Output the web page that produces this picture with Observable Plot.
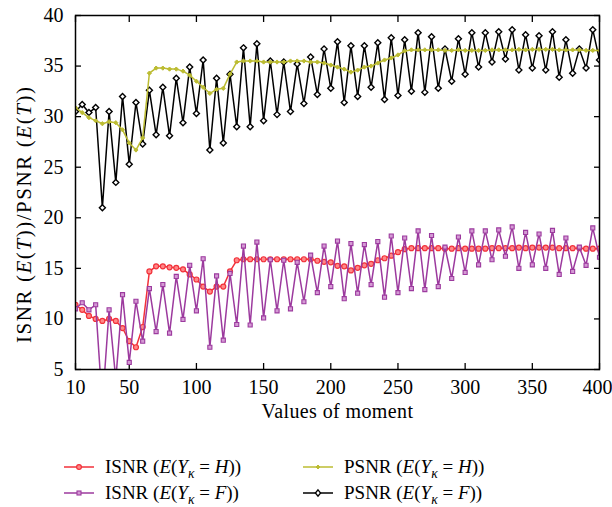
<!DOCTYPE html>
<html><head><meta charset="utf-8">
<script src="https://cdn.jsdelivr.net/npm/d3@7"></script>
<script src="https://cdn.jsdelivr.net/npm/@observablehq/plot@0.6"></script>
<style>
body{margin:0;background:#fff;}
#wrap{position:relative;width:612px;height:507px;font-family:"Liberation Serif",serif;background:#fff;}
.leg{position:absolute;display:flex;align-items:center;height:22px;font-size:19px;color:#000;white-space:nowrap;}
.leg svg{margin-right:11px;}
.leg sub{font-size:0.72em;vertical-align:-0.35em;line-height:0;}
</style></head><body>
<div id="wrap"><div id="chart"></div></div>
<script>
const moments = [10,15,20,25,30,35,40,45,50,55,60,65,70,75,80,85,90,95,100,105,110,115,120,125,130,135,140,145,150,155,160,165,170,175,180,185,190,195,200,205,210,215,220,225,230,235,240,245,250,255,260,265,270,275,280,285,290,295,300,305,310,315,320,325,330,335,340,345,350,355,360,365,370,375,380,385,390,395,400];

const isnrH = [11.4,10.9,10.3,10.0,9.8,10.0,9.8,9.1,7.8,7.2,9.2,14.7,15.2,15.2,15.1,15.05,14.9,14.4,13.9,13.2,12.7,13.2,13.2,14.7,15.8,15.9,15.9,15.9,15.9,15.9,15.9,15.9,15.9,15.9,15.9,15.9,15.75,15.65,15.6,15.25,15.2,14.8,15.05,15.3,15.45,15.8,16.0,16.25,16.6,16.9,17.0,17.0,17.0,17.0,17.0,16.95,16.95,17.0,16.95,16.95,16.95,16.95,17.0,17.0,17.0,17.0,17.05,17.0,17.05,17.05,17.05,17.05,17.0,17.0,17.0,17.0,16.95,16.95,16.95];

const isnrF = [11.0,11.6,10.9,11.4,1.5,10.9,4.0,12.4,5.7,11.75,7.8,13.0,8.75,13.4,8.6,14.2,9.95,15.3,10.8,15.95,7.2,14.25,7.9,14.5,9.45,17.2,9.4,17.6,10.1,15.85,10.8,15.8,11.0,15.6,11.7,16.3,12.6,17.2,13.2,17.7,12.0,17.45,12.55,17.35,13.4,17.65,12.15,18.2,12.6,18.0,13.0,18.7,12.9,18.25,13.2,17.1,14.0,18.1,14.6,18.7,15.35,18.7,15.85,18.8,16.2,19.1,15.0,18.55,15.35,18.4,15.0,18.75,14.4,18.0,14.7,17.1,15.3,19.0,16.1];

const psnrH = [30.9,30.4,29.9,29.6,29.3,29.5,29.4,28.7,27.4,26.7,27.9,34.3,34.8,34.8,34.7,34.7,34.5,34.1,33.5,32.9,32.3,32.7,32.8,34.2,35.4,35.5,35.5,35.5,35.4,35.4,35.4,35.4,35.5,35.5,35.5,35.4,35.4,35.3,35.1,34.9,34.7,34.4,34.6,34.9,35.0,35.3,35.6,35.8,36.1,36.5,36.6,36.6,36.6,36.6,36.6,36.55,36.55,36.6,36.55,36.55,36.55,36.55,36.6,36.6,36.6,36.6,36.65,36.6,36.65,36.65,36.65,36.65,36.6,36.6,36.6,36.6,36.55,36.55,36.55];

const psnrF = [30.5,31.2,30.4,30.9,21.0,30.5,23.5,32.0,25.3,31.4,27.3,32.6,28.2,32.9,28.1,33.8,29.4,34.9,30.3,35.6,26.7,33.8,27.4,34.2,29.0,36.8,29.0,37.2,29.6,35.5,30.2,35.4,30.5,35.2,31.3,35.9,32.2,36.7,32.8,37.4,31.4,37.0,32.0,37.0,32.9,37.3,31.7,37.8,32.1,37.6,32.5,38.3,32.4,37.9,32.8,36.7,33.5,37.7,34.2,38.3,34.9,38.3,35.4,38.4,35.7,38.6,34.6,38.1,34.8,38.0,34.6,38.4,33.9,37.6,34.3,36.7,34.8,38.6,35.6];

const xTicks = [10,50,100,150,200,250,300,350,400];
const yTicks = [5,10,15,20,25,30,35,40];

const RED = "#f2313a", PURPLE = "#9c3a9e", YELLOW = "#bcbc32", BLACK = "#000";

const rows = vals => moments.map((m, i) => ({m, v: vals[i]}));
const dIH = rows(isnrH), dIF = rows(isnrF), dPH = rows(psnrH), dPF = rows(psnrF);
const lastTick = xTicks[xTicks.length - 1];

const chart = Plot.plot({
  width: 612, height: 440,
  marginLeft: 75, marginRight: 13, marginTop: 15, marginBottom: 71,
  style: {fontFamily: "Liberation Serif, serif", fontSize: "20px", color: "#000", background: "#fff"},
  x: {domain: [10, 400]},
  y: {domain: [5, 40]},
  marks: [
    Plot.axisX({anchor: "bottom", ticks: xTicks.slice(0, -1), tickSize: 0, tickPadding: 10, label: null}),
    Plot.axisX({anchor: "bottom", ticks: [lastTick], tickSize: 0, tickPadding: 10, label: null, dx: -2}),
    Plot.axisY({anchor: "left", ticks: yTicks, tickSize: 0, tickPadding: 12, label: null}),
    Plot.axisX({anchor: "bottom", ticks: xTicks, tickSize: -6, fill: "none", label: null, strokeWidth: 1.3}),
    Plot.axisX({anchor: "top", ticks: xTicks, tickSize: -6, fill: "none", label: null, strokeWidth: 1.3}),
    Plot.axisY({anchor: "left", ticks: yTicks, tickSize: -6, fill: "none", label: null, strokeWidth: 1.3}),
    Plot.axisY({anchor: "right", ticks: yTicks, tickSize: -6, fill: "none", label: null, strokeWidth: 1.3}),
    Plot.line(dPF, {x: "m", y: "v", stroke: BLACK, strokeWidth: 1.5, clip: true}),
    Plot.dot(dPF, {x: "m", y: "v", symbol: "diamond2", r: 2.7, stroke: BLACK, fill: "#fff", strokeWidth: 1.4, clip: true}),
    Plot.line(dPH, {x: "m", y: "v", stroke: YELLOW, strokeWidth: 1.5, clip: true}),
    Plot.dot(dPH, {x: "m", y: "v", symbol: "diamond2", r: 1.9, stroke: YELLOW, fill: YELLOW, strokeWidth: 1, clip: true}),
    Plot.line(dIH, {x: "m", y: "v", stroke: RED, strokeWidth: 1.5, clip: true}),
    Plot.dot(dIH, {x: "m", y: "v", symbol: "circle", r: 2.5, stroke: RED, fill: "#f88", strokeWidth: 1.2, clip: true}),
    Plot.line(dIF, {x: "m", y: "v", stroke: PURPLE, strokeWidth: 1.5, clip: true}),
    Plot.dot(dIF, {x: "m", y: "v", symbol: "square", r: 2.3, stroke: PURPLE, fill: "#d49ad4", strokeWidth: 1.1, clip: true}),
    Plot.text(["Values of moment"], {frameAnchor: "bottom", dy: 48, fontSize: 20, fill: "#000"}),
    Plot.frame({stroke: "#000", strokeWidth: 1.5})
  ]
});
document.getElementById("chart").appendChild(chart);
d3.select(chart).selectAll("text").filter(function() { return this.textContent === "Values of moment"; }).attr("letter-spacing", "0.4px");

// rotated y-axis label with italic parts
const yl = d3.select(chart).append("text")
  .attr("transform", "translate(31,215) rotate(-90)")
  .attr("text-anchor", "middle")
  .attr("font-size", 21)
  .attr("textLength", 256)
  .attr("lengthAdjust", "spacing")
  .attr("fill", "#000");
[["ISNR (", false], ["E", true], ["(", false], ["T", true], ["))/PSNR (", false], ["E", true], ["(", false], ["T", true], ["))", false]]
  .forEach(([t, it]) => yl.append("tspan").attr("font-style", it ? "italic" : "normal").text(t));

// legend
const legendItems = [
  {label: 'ISNR (<i>E</i>(<i>Y</i><sub><i>κ</i></sub> = <i>H</i>))', color: RED, sym: "circle", fill: "#f88", left: 64, top: 456},
  {label: 'ISNR (<i>E</i>(<i>Y</i><sub><i>κ</i></sub> = <i>F</i>))', color: PURPLE, sym: "square", fill: "#d49ad4", left: 64, top: 482},
  {label: 'PSNR (<i>E</i>(<i>Y</i><sub><i>κ</i></sub> = <i>H</i>))', color: YELLOW, sym: "diamond2", fill: YELLOW, left: 303, top: 456},
  {label: 'PSNR (<i>E</i>(<i>Y</i><sub><i>κ</i></sub> = <i>F</i>))', color: BLACK, sym: "diamond", fill: "#fff", left: 303, top: 482}
];
const wrap = document.getElementById("wrap");
legendItems.forEach(it => {
  const div = document.createElement("div");
  div.className = "leg";
  div.style.left = it.left + "px";
  div.style.top = it.top + "px";
  let marker;
  if (it.sym === "circle") marker = `<circle cx="15" cy="6" r="2.4" fill="${it.fill}" stroke="${it.color}" stroke-width="1.2"/>`;
  else if (it.sym === "square") marker = `<rect x="13" y="4" width="4" height="4" fill="${it.fill}" stroke="${it.color}" stroke-width="1.1"/>`;
  else if (it.sym === "diamond2") marker = `<path d="M15,4 L17,6 L15,8 L13,6Z" fill="${it.fill}" stroke="${it.color}" stroke-width="1"/>`;
  else marker = `<path d="M15,2.8 L17.6,6 L15,9.2 L12.4,6Z" fill="${it.fill}" stroke="${it.color}" stroke-width="1.3"/>`;
  div.innerHTML = `<svg width="30" height="12"><line x1="0" y1="6" x2="30" y2="6" stroke="${it.color}" stroke-width="1.5"/>${marker}</svg><span>${it.label}</span>`;
  wrap.appendChild(div);
});
</script>
</body></html>
